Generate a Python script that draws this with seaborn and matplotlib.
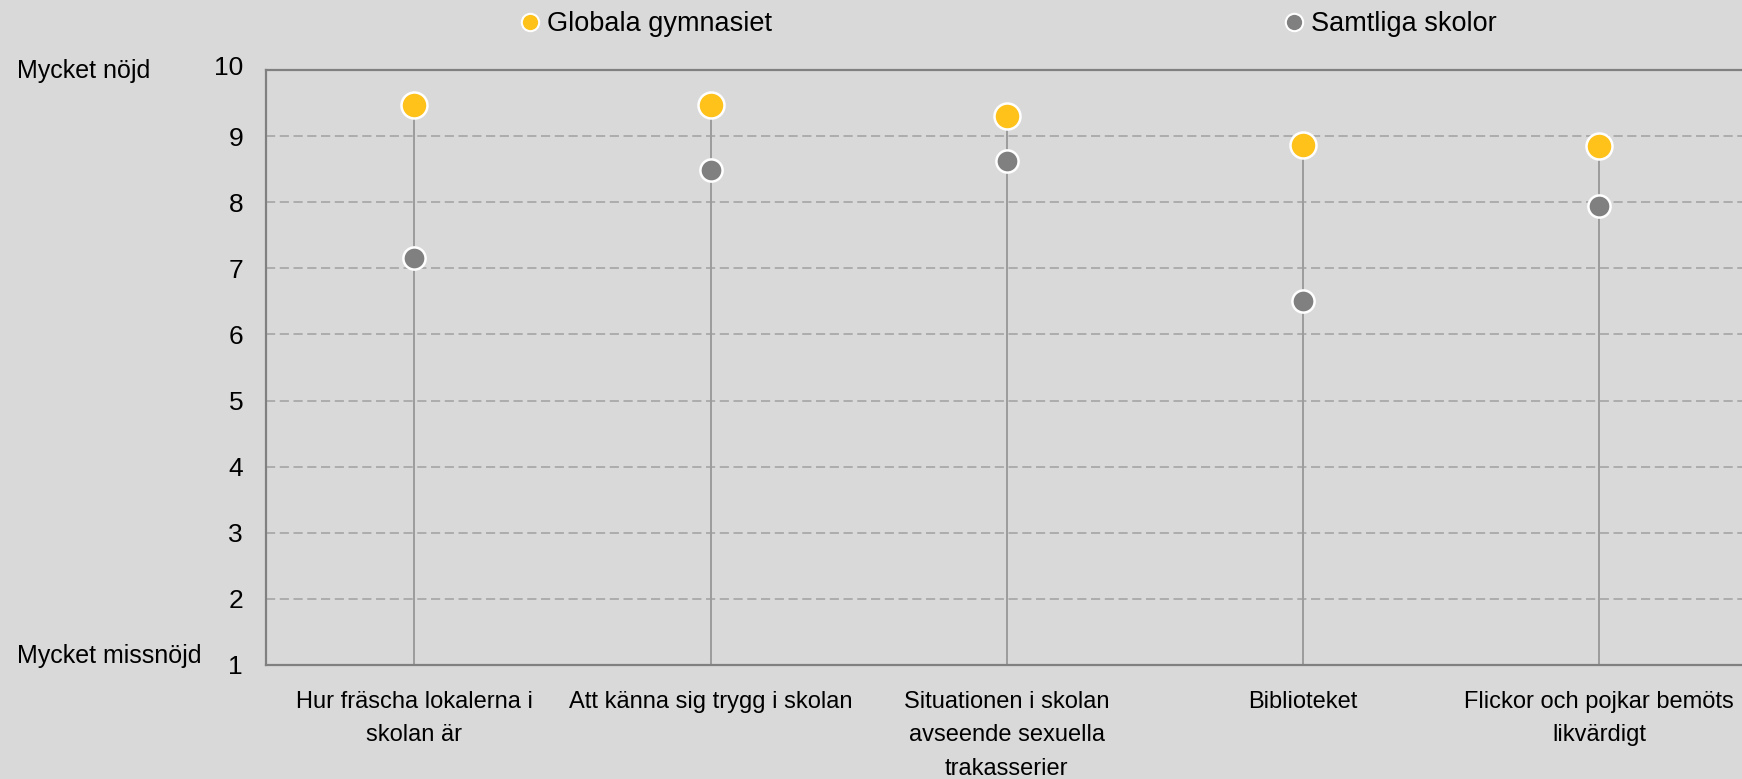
import numpy as np
import pandas as pd
import matplotlib
matplotlib.use("Agg")
import matplotlib.pyplot as plt
import matplotlib.transforms as mtransforms
from matplotlib.lines import Line2D
import seaborn as sns

# ---------------------------------------------------------------------------
# Data
# ---------------------------------------------------------------------------
categories = [
    "Hur fräscha lokalerna i\nskolan är",
    "Att känna sig trygg i skolan",
    "Situationen i skolan\navseende sexuella\ntrakasserier",
    "Biblioteket",
    "Flickor och pojkar bemöts\nlikvärdigt",
]
globala = [9.47, 9.47, 9.31, 8.86, 8.85]
samtliga = [7.16, 8.48, 8.62, 6.50, 7.95]
series_names = ["Globala gymnasiet", "Samtliga skolor"]
y_ticks = list(range(1, 11))

BG = "#D9D9D9"
YELLOW = "#FFC21A"
GREY = "#808080"
LINE = "#9C9C9C"

sns.set_style("white")
plt.rcParams["font.family"] = ["Liberation Sans", "DejaVu Sans"]
plt.rcParams["text.color"] = "black"

df = pd.DataFrame({
    "pos": list(range(len(categories))) * 2,
    "value": globala + samtliga,
    "series": [series_names[0]] * len(categories) + [series_names[1]] * len(categories),
})

W, H = 1742, 779
fig = plt.figure(figsize=(W / 100, H / 100), dpi=100, facecolor=BG)
ax = fig.add_axes([266 / W, 1 - 665 / H, 1 - 266 / W, (665 - 70) / H])
ax.set_facecolor(BG)

# dashed grid
for y in y_ticks[1:-1]:
    ax.axhline(y, color="#A0A0A0", linestyle=(0, (6, 3)), linewidth=1.1, zorder=0)

# stems from the bottom up to the highest point of each category
tops = df.groupby("pos")["value"].max()
ax.vlines(tops.index, 1, tops.values, color=LINE, linewidth=1.4, zorder=1)

sns.scatterplot(data=df[df["series"] == series_names[1]], x="pos", y="value",
                color=GREY, s=255, edgecolor="white", linewidth=1.8,
                ax=ax, zorder=3, legend=False)
sns.scatterplot(data=df[df["series"] == series_names[0]], x="pos", y="value",
                color=YELLOW, s=350, edgecolor="white", linewidth=1.8,
                ax=ax, zorder=4, legend=False)

ax.set_xlim(-0.501, 4.483)
ax.set_ylim(1, 10)
ax.set_yticks(y_ticks)
ax.set_xticks(range(len(categories)))
ax.set_xticklabels(categories, linespacing=1.68)
ax.set_xlabel("")
ax.set_ylabel("")
ax.tick_params(axis="both", length=0, colors="black")
ax.tick_params(axis="x", pad=18.5, labelsize=17)
ax.tick_params(axis="y", pad=16.5, labelsize=19)

# the top tick label sits a little above its line in the original
top_label = ax.get_yticklabels()[-1]
top_label.set_transform(top_label.get_transform()
                        + mtransforms.ScaledTranslation(0, 3.5 / 72, fig.dpi_scale_trans))

for side in ["top", "left", "bottom"]:
    ax.spines[side].set_visible(True)
    ax.spines[side].set_color("#808080")
    ax.spines[side].set_linewidth(1.6)
ax.spines["right"].set_visible(False)

fig.text(17 / W, 1 - 71 / H, "Mycket nöjd", fontsize=18, va="center", ha="left")
fig.text(17 / W, 1 - 656 / H, "Mycket missnöjd", fontsize=18, va="center", ha="left")

# legend across the top
handles = [
    Line2D([], [], linestyle="none", marker="o", markersize=12.5,
           markerfacecolor=YELLOW, markeredgecolor="white", markeredgewidth=1.5),
    Line2D([], [], linestyle="none", marker="o", markersize=12.5,
           markerfacecolor=GREY, markeredgecolor="white", markeredgewidth=1.5),
]
fig.legend(handles, series_names, ncol=2, frameon=False,
           loc="center left", bbox_to_anchor=(522 / W, 1 - 24 / H),
           fontsize=19.5, handlelength=0.6, handletextpad=0.33,
           columnspacing=18.95, borderpad=0, borderaxespad=0)

fig.savefig("out.png", dpi=100, facecolor=BG)
